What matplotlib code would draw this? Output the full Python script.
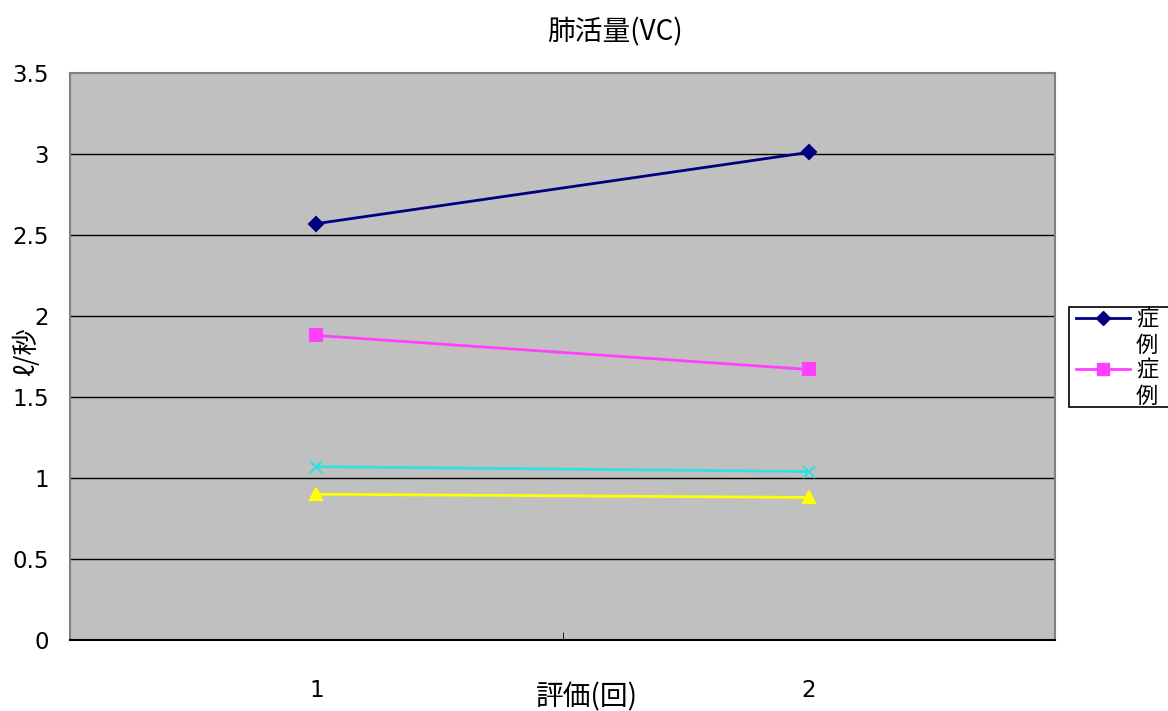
import matplotlib.pyplot as plt
from matplotlib.lines import Line2D
from matplotlib.patches import Rectangle

plt.rcParams["font.family"] = ["Noto Sans CJK JP", "DejaVu Sans"]

evaluations = [1, 2]
case_a = [2.57, 3.01]
case_b = [1.88, 1.67]
case_c = [1.07, 1.04]
case_d = [0.90, 0.88]
y_ticks = [0, 0.5, 1, 1.5, 2, 2.5, 3, 3.5]
y_tick_labels = ["0", "0.5", "1", "1.5", "2", "2.5", "3", "3.5"]

series = [
    (case_a, "#000080", "D", 7),
    (case_b, "#FF40FF", "s", 9),
    (case_c, "#33E0E0", "x", 9),
    (case_d, "#FFFF00", "^", 9),
]

fig = plt.figure(figsize=(11.68, 7.11), dpi=100)
ax = fig.add_axes([70 / 1168, 1 - 640 / 711, 985 / 1168, 567 / 711])
ax.set_facecolor("#C0C0C0")

for y in y_ticks[1:-1]:
    ax.axhline(y, color="#000000", linewidth=1.0, zorder=1)

for values, color, marker, size in series:
    ax.plot(evaluations, values, color=color, linewidth=2.0, marker=marker,
            markersize=size, markeredgewidth=1.5, zorder=3)

ax.set_xlim(0.5, 2.5)
ax.set_ylim(0, 3.5)
ax.set_yticks(y_ticks)
ax.set_yticklabels(y_tick_labels, fontsize=16.5, family="DejaVu Sans")
ax.tick_params(axis="y", length=0, pad=15)

ax.set_xticks([1, 2])
ax.set_xticklabels(["1", "2"], fontsize=16.5, family="DejaVu Sans")
ax.tick_params(axis="x", length=0, pad=28)
ax.set_xticks([1.5], minor=True)
ax.tick_params(axis="x", which="minor", direction="in", length=6, color="black")

for side in ["left", "top", "right"]:
    ax.spines[side].set_color("#808080")
    ax.spines[side].set_linewidth(1.5)
ax.spines["bottom"].set_color("black")
ax.spines["bottom"].set_linewidth(1.5)

fig.text(615 / 1168, 1 - 32 / 711, "肺活量(VC)", ha="center", va="center", fontsize=20)
fig.text(587 / 1168, 1 - 697 / 711, "評価(回)", ha="center", va="center", fontsize=20)
fig.text(27 / 1168, 1 - 352 / 711, "ℓ/秒", ha="center", va="center", fontsize=19,
         rotation=90)

# legend box, cut off by the right edge of the figure
fig.patches.append(Rectangle((1069 / 1168, 1 - 407 / 711), 110 / 1168, 100 / 711,
                             transform=fig.transFigure, facecolor="white",
                             edgecolor="black", linewidth=1.2, zorder=5))
for (values, color, marker, size), ly in zip(series[:2], [318, 369]):
    fig.lines.append(Line2D([1076 / 1168, 1103 / 1168, 1130 / 1168], [1 - ly / 711] * 3,
                            transform=fig.transFigure, color=color, linewidth=2.0,
                            marker=marker, markersize=size, markevery=[1], zorder=6))
    fig.text(1136 / 1168, 1 - (ly + 1) / 711, "症", ha="left", va="center", fontsize=16, zorder=7)
    fig.text(1136 / 1168, 1 - (ly + 27) / 711, "例", ha="left", va="center", fontsize=16, zorder=7)

fig.savefig("out.png", dpi=100)
